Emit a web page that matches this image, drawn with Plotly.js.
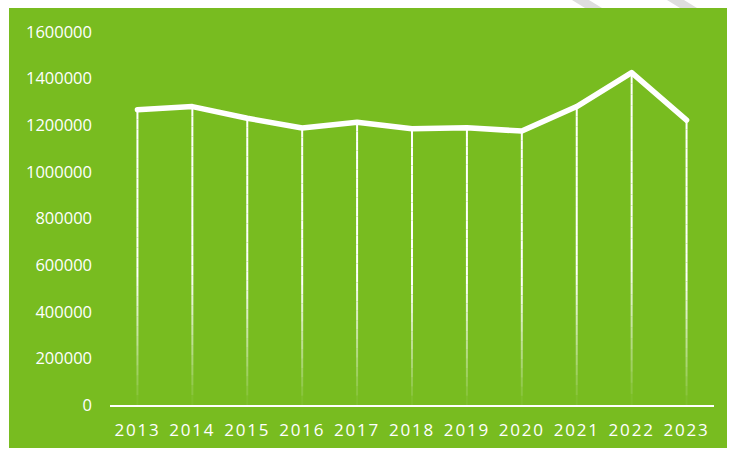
<!DOCTYPE html>
<html><head><meta charset="utf-8">
<script src="https://cdn.plot.ly/plotly-3.0.1.min.js"></script>
<style>
html,body{margin:0;padding:0;background:#fff;width:731px;height:451px;overflow:hidden;}
#deco{position:absolute;left:0;top:0;}
#chart{position:absolute;left:9px;top:8px;width:718px;height:440px;}
#chart .xtick text{letter-spacing:1.8px;}
#chart .scatterlayer .trace:last-child .js-line{stroke-linejoin:round;stroke-linecap:round;}
</style></head><body>
<svg id="deco" width="731" height="451">
<polygon points="572,0 589,0 602,8 585,8" fill="#dedede"/>
<polygon points="667,0 684,0 697,8 680,8" fill="#dedede"/>
</svg>
<div id="chart"></div>
<script>
const years = ['2013','2014','2015','2016','2017','2018','2019','2020','2021','2022','2023'];
const values = [1267000, 1280000, 1230000, 1188000, 1213000, 1185000, 1189000, 1175000, 1280000, 1426000, 1222000];
const yTicks = [0,200000,400000,600000,800000,1000000,1200000,1400000,1600000];

const green = 'rgb(120,188,32)';
const traces = [];
const N = 30;
for (let k = 0; k < N; k++) {
  const f0 = k / N, f1 = (k + 1) / N, fm = (f0 + f1) / 2;
  const a = fm >= 0.45 ? 1 : Math.max(0.03, Math.pow(fm / 0.45, 0.9));
  const xs = [], ys = [];
  years.forEach((yr, i) => {
    xs.push(yr, yr, yr);
    ys.push(values[i] * f0, values[i] * f1, null);
  });
  traces.push({x: xs, y: ys, mode: 'lines', type: 'scatter', hoverinfo: 'skip',
    line: {color: 'rgba(255,255,255,' + a.toFixed(3) + ')', width: 2}, showlegend: false});
}
traces.push({x: years, y: values, mode: 'lines', type: 'scatter',
  line: {color: '#ffffff', width: 5.5}, showlegend: false});

const font = {family: '"Open Sans", "Noto Sans", sans-serif', size: 16.5, color: '#ffffff'};
const xfont = {family: '"Open Sans", "Noto Sans", sans-serif', size: 17, color: '#ffffff'};
const layout = {
  width: 718, height: 440,
  margin: {l: 101, r: 13, t: 24, b: 43},
  paper_bgcolor: green, plot_bgcolor: green,
  showlegend: false,
  xaxis: {type: 'category', range: [-0.5, 10.5], showgrid: false, zeroline: false,
    showline: true, linecolor: '#ffffff', linewidth: 2, ticks: '', tickfont: xfont,
    ticklabelstandoff: 9, fixedrange: true},
  yaxis: {range: [0, 1600000], tickvals: yTicks, ticktext: yTicks.map(String),
    showgrid: false, zeroline: false, showline: false, ticks: '', tickfont: font,
    ticklabelstandoff: 17, fixedrange: true},
};
Plotly.newPlot('chart', traces, layout, {staticPlot: true, displayModeBar: false});
</script>
</body></html>
